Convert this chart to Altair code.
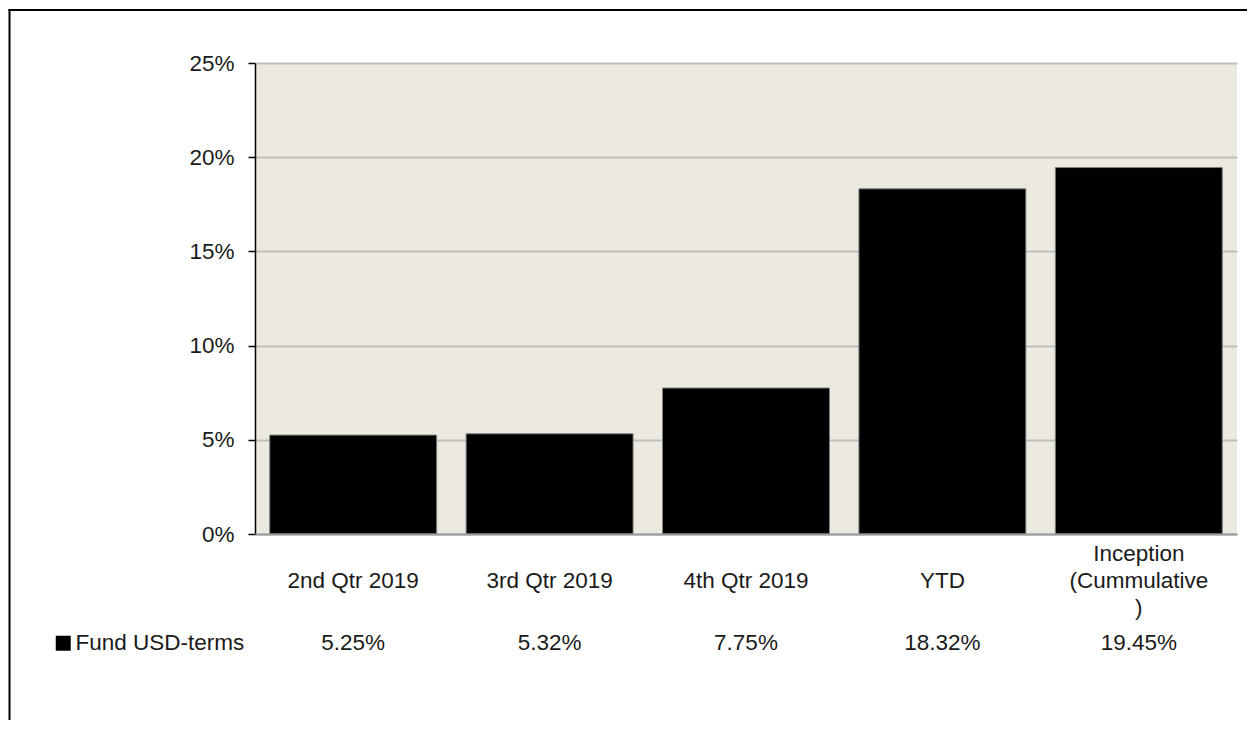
import altair as alt
import pandas as pd

# ---- data ----
categories = ["2nd Qtr 2019", "3rd Qtr 2019", "4th Qtr 2019", "YTD", "Inception\n(Cummulative\n)"]
values_pct = [5.25, 5.32, 7.75, 18.32, 19.45]
series_name = "Fund USD-terms"
y_ticks_pct = [0, 5, 10, 15, 20, 25]
title_text = "Sanlam Global Investment Fund X launched on 14 March 2019."

df = pd.DataFrame({
    "category": categories,
    "value": [v / 100 for v in values_pct],
    "series": [series_name] * len(categories),
})
one = pd.DataFrame({"k": [0]})

W, H = 982, 471
FONT = "Liberation Sans"
TXT = "#1a1a1a"
FS = 22.5
LH = 27

xscale = alt.Scale(domain=categories, paddingInner=0.15, paddingOuter=0.075)
xaxis = alt.Axis(title=None, labels=False, ticks=False, domain=True,
                 domainColor="#9a9a9a", domainWidth=2, grid=False, zindex=1)
yscale = alt.Scale(domain=[0, 0.25], nice=False)
yaxis = alt.Axis(values=[t / 100 for t in y_ticks_pct], format=".0%", title=None,
                 labelFont=FONT, labelFontSize=FS, labelColor=TXT, labelPadding=14,
                 tickSize=7, tickColor="black", tickWidth=1.5,
                 domainColor="black", domainWidth=1.5,
                 grid=True, gridColor="#bfbfbf", gridWidth=2)

base = alt.Chart(df).encode(x=alt.X("category:N", sort=categories, scale=xscale, axis=xaxis))

bars = base.mark_bar(stroke="#7f7f7f", strokeWidth=1).encode(
    y=alt.Y("value:Q", scale=yscale, axis=yaxis),
    color=alt.Color("series:N", scale=alt.Scale(range=["black"]),
                    legend=alt.Legend(orient="none", legendX=-203, legendY=569, title=None,
                                      symbolType="square", symbolSize=225,
                                      symbolStrokeWidth=0, labelFont=FONT,
                                      labelFontSize=FS, labelColor=TXT, labelLimit=400,
                                      labelOffset=1, padding=0)),
)

# category labels: multi-line blocks centred on the same line as single-line labels
cat_labels = base.transform_calculate(
    nlines="length(split(datum.category, '\\n'))"
).transform_calculate(
    ypos=f"{H + 47} - {LH / 2} * (datum.nlines - 1)"
).mark_text(lineBreak="\n", font=FONT, fontSize=FS, color=TXT,
            baseline="middle", lineHeight=LH).encode(
    y=alt.Y("ypos:Q", scale=None, axis=None), text="category:N")

val_labels = base.mark_text(font=FONT, fontSize=FS, color=TXT, baseline="middle").encode(
    y=alt.value(H + 109), text=alt.Text("value:Q", format=".2%"))

border_left = alt.Chart(one).mark_rule(color="black", strokeWidth=2).encode(
    x=alt.value(-245.5), y=alt.value(-54), y2=alt.value(700))
border_top = alt.Chart(one).mark_rule(color="black", strokeWidth=2).encode(
    x=alt.value(-246.5), x2=alt.value(1000), y=alt.value(-53))

title = alt.Chart(one).mark_text(font=FONT, fontSize=19, color=TXT, align="left",
                                 baseline="alphabetic").encode(
    x=alt.value(-255), y=alt.value(-57), text=alt.value(title_text))

chart = alt.layer(bars, cat_labels, val_labels, border_left, border_top, title).properties(
    width=W, height=H,
    autosize=alt.AutoSizeParams(type="none"),
    padding={"left": 247, "top": 55, "right": 10, "bottom": 186},
    background="white",
).configure_view(fill="#ECE9E0", stroke=None)

chart.save("out.html", embed_options={"renderer": "svg", "actions": False})
